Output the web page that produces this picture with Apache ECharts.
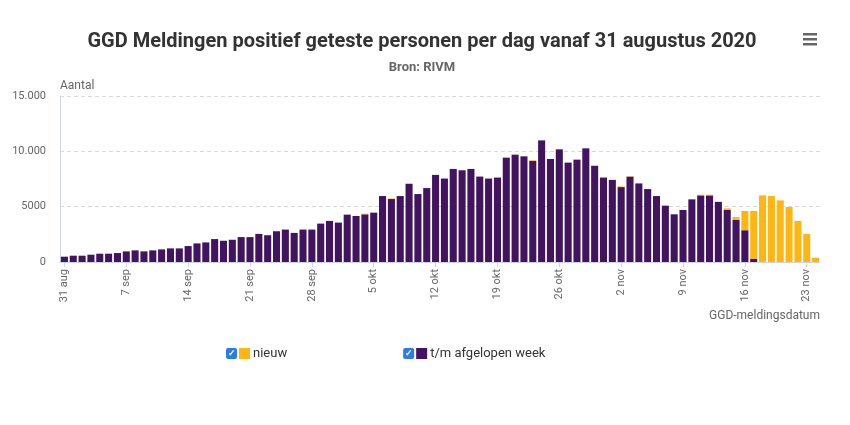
<!DOCTYPE html>
<html>
<head>
<meta charset="utf-8">
<script src="https://cdn.jsdelivr.net/npm/echarts@6/dist/echarts.min.js"></script>
<style>html,body{margin:0;padding:0;background:#fff}#c{width:850px;height:425px}</style>
</head>
<body>
<div id="c"></div>
<script>
// Dates: 31 aug 2020 .. 24 nov 2020 (86 days)
const monthsNL = ['jan','feb','mrt','apr','mei','jun','jul','aug','sep','okt','nov','dec'];
const startDate = Date.UTC(2020, 7, 31);
const dayCount = 86;
const categories = [];
for (let i = 0; i < dayCount; i++) {
  const d = new Date(startDate + i * 86400000);
  categories.push(d.getUTCDate() + ' ' + monthsNL[d.getUTCMonth()]);
}

// t/m afgelopen week (purple)
const afgelopenWeek = [
  480, 570, 570, 660, 750, 750, 810,
  960, 1050, 960, 1050, 1140, 1230, 1230,
  1440, 1680, 1770, 2070, 1920, 2010, 2250,
  2250, 2540, 2420, 2780, 2930, 2630, 2930,
  2930, 3470, 3710, 3560, 4280, 4160, 4310,
  4460, 5960, 5690, 5960, 7070, 6140, 6680,
  7870, 7540, 8410, 8290, 8410, 7720, 7540,
  7630, 9430, 9700, 9550, 9130, 10990, 9310,
  10180, 8980, 9250, 10270, 8680, 7630, 7420,
  6770, 7720, 7100, 6590, 5960, 5090, 4310,
  4700, 5660, 6020, 6020, 5420, 4700, 3800,
  2870, 300, 0, 0, 0, 0, 0,
  0, 0
];

// nieuw (yellow)
const nieuw = [
  0, 0, 0, 0, 0, 0, 0,
  0, 0, 0, 0, 0, 0, 0,
  0, 0, 0, 0, 0, 0, 0,
  0, 0, 0, 0, 0, 0, 0,
  0, 0, 0, 0, 0, 0, 60,
  0, 0, 50, 0, 0, 0, 0,
  0, 0, 0, 0, 0, 0, 0,
  0, 60, 0, 0, 70, 0, 0,
  0, 0, 0, 0, 60, 0, 0,
  60, 40, 0, 0, 0, 0, 0,
  0, 0, 60, 60, 40, 150, 270,
  1740, 4310, 6020, 5960, 5570, 4970, 3710,
  2540, 390
];

const yTicks = [0, 5000, 10000, 15000];
const yTickLabels = ['0', '5000', '10.000', '15.000'];

const purple = '#42145f';
const yellow = '#ffb612';
const fontFam = 'Roboto, "Open Sans", sans-serif';

const chart = echarts.init(document.getElementById('c'), null, {renderer: 'canvas'});
chart.setOption({
  animation: false,
  backgroundColor: '#fff',
  textStyle: {fontFamily: fontFam},
  title: {
    text: 'GGD Meldingen positief geteste personen per dag vanaf 31 augustus 2020',
    subtext: 'Bron: RIVM',
    left: 417,
    textAlign: 'center',
    top: 27,
    itemGap: 9,
    textStyle: {fontFamily: fontFam, fontSize: 20, fontWeight: 'bold', color: '#333'},
    subtextStyle: {fontFamily: fontFam, fontSize: 13, fontWeight: 'bold', color: '#666'}
  },
  legend: {
    left: 216,
    top: 342,
    itemGap: 111,
    icon: 'none',
    itemWidth: 0,
    itemHeight: 12,
    data: ['nieuw', 't/m afgelopen week'],
    selectedMode: false,
    formatter: function (name) {
      return name === 'nieuw'
        ? '{cb|✓}{g| }{sqy| }{t|nieuw}'
        : '{cb|✓}{g| }{sqp| }{t|t/m afgelopen week}';
    },
    textStyle: {
      fontFamily: fontFam,
      rich: {
        cb: {backgroundColor: '#2b7ce9', color: '#fff', width: 11, height: 11, lineHeight: 11, borderRadius: 2, align: 'center', fontSize: 9, fontWeight: 'bold'},
        g: {width: 2, fontSize: 2},
        sqy: {backgroundColor: yellow, width: 11, height: 11, fontSize: 2},
        sqp: {backgroundColor: purple, width: 11, height: 11, fontSize: 2},
        t: {fontSize: 13, color: '#333', padding: [0, 0, 0, 3], fontFamily: fontFam}
      }
    }
  },
  grid: {left: 60, right: 30, top: 96, bottom: 163, containLabel: false},
  xAxis: {
    type: 'category',
    data: categories,
    boundaryGap: true,
    axisLine: {show: true, lineStyle: {color: '#ccd6eb'}},
    axisTick: {show: true, interval: 6, alignWithLabel: true, length: 5, lineStyle: {color: '#ccd6eb'}},
    axisLabel: {interval: 6, rotate: 90, color: '#666', fontSize: 11, margin: 7, fontFamily: fontFam},
    splitLine: {show: false}
  },
  yAxis: {
    type: 'value',
    min: 0,
    max: 15000,
    interval: 5000,
    name: 'Aantal',
    nameLocation: 'end',
    nameGap: 4,
    nameTextStyle: {align: 'left', verticalAlign: 'bottom', color: '#666', fontSize: 12, fontFamily: fontFam, padding: [0, 0, 0, 0]},
    axisLine: {show: true, lineStyle: {color: '#ccd6eb'}},
    axisTick: {show: false},
    axisLabel: {
      color: '#666', fontSize: 11, margin: 14, fontFamily: fontFam,
      formatter: function (v) { const i = yTicks.indexOf(v); return i >= 0 ? yTickLabels[i] : String(v); }
    },
    splitLine: {show: true, lineStyle: {color: '#d8d8d8', type: [4, 3], width: 1}}
  },
  series: [
    {
      name: 't/m afgelopen week',
      type: 'bar',
      stack: 'total',
      data: afgelopenWeek,
      itemStyle: {color: purple},
      barCategoryGap: '20%'
    },
    {
      name: 'nieuw',
      type: 'bar',
      stack: 'total',
      data: nieuw,
      itemStyle: {color: yellow},
      barCategoryGap: '20%'
    }
  ],
  graphic: [
    {type: 'text', right: 30, top: 310, style: {text: 'GGD-meldingsdatum', fill: '#666', font: '12px ' + fontFam}},
    {type: 'group', left: 803, top: 33, children: [
      {type: 'rect', shape: {x: 0, y: 0, width: 14, height: 2.5}, style: {fill: '#666'}},
      {type: 'rect', shape: {x: 0, y: 5, width: 14, height: 2.5}, style: {fill: '#666'}},
      {type: 'rect', shape: {x: 0, y: 10, width: 14, height: 2.5}, style: {fill: '#666'}}
    ]}
  ]
});
</script>
</body>
</html>
